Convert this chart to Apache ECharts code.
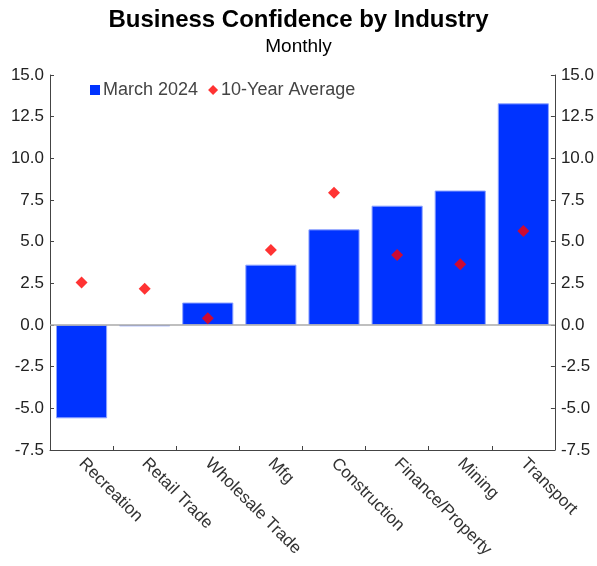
<!DOCTYPE html>
<html>
<head>
<meta charset="utf-8">
<script src="https://cdn.jsdelivr.net/npm/echarts@6/dist/echarts.min.js"></script>
<style>
  html, body { margin: 0; padding: 0; background: #fff; }
  #chart { width: 597px; height: 566px; }
</style>
</head>
<body>
<div id="chart"></div>
<script>
// industries, sorted by March reading
const categories = ['Recreation', 'Retail Trade', 'Wholesale Trade', 'Mfg', 'Construction', 'Finance/Property', 'Mining', 'Transport']
const march2024 = [-5.6, -0.08, 1.35, 3.62, 5.74, 7.16, 8.07, 13.3]
const tenYearAvg = [2.55, 2.18, 0.4, 4.5, 7.93, 4.2, 3.65, 5.64]
const yTicks = { min: -7.5, max: 15, interval: 2.5 }

const font = 'Liberation Sans, Arial, sans-serif'
const axisColor = '#444'

function yAxisCfg(pos) {
  return {
    type: 'value',
    position: pos,
    min: yTicks.min,
    max: yTicks.max,
    interval: yTicks.interval,
    axisLine: { show: true, lineStyle: { color: axisColor, width: 1 } },
    axisTick: { show: true, inside: true, length: 4, lineStyle: { color: axisColor } },
    axisLabel: {
      color: '#222',
      fontSize: 17,
      fontFamily: font,
      margin: 6,
      formatter: v => v.toFixed(1)
    },
    splitLine: { show: false }
  }
}

const chart = echarts.init(document.getElementById('chart'))
chart.setOption({
  animation: false,
  title: {
    text: 'Business Confidence by Industry',
    subtext: 'Monthly',
    left: 'center',
    top: 3,
    itemGap: 5,
    textStyle: { fontSize: 24, fontWeight: 'bold', color: '#000', fontFamily: font },
    subtextStyle: { fontSize: 19, color: '#000', fontFamily: font }
  },
  legend: {
    left: 85,
    top: 76,
    itemWidth: 10,
    itemHeight: 10,
    itemGap: 10,
    textStyle: { fontSize: 18, color: '#444', fontFamily: font, padding: [0, 0, 0, -2] },
    data: [
      { name: 'March 2024', icon: 'rect', itemStyle: { borderWidth: 0 } },
      { name: '10-Year Average', icon: 'diamond' }
    ]
  },
  grid: { left: 50, right: 39, top: 75, bottom: 116 },
  xAxis: {
    type: 'category',
    data: categories,
    axisLine: { onZero: false, lineStyle: { color: axisColor } },
    axisTick: { show: true, inside: true, length: 4, alignWithLabel: false, lineStyle: { color: axisColor } },
    axisLabel: {
      rotate: -45,
      interval: 0,
      color: '#333',
      fontSize: 17,
      fontFamily: font,
      margin: 11
    }
  },
  yAxis: [yAxisCfg('left'), yAxisCfg('right')],
  series: [
    {
      name: 'March 2024',
      type: 'bar',
      data: march2024,
      barWidth: '81%',
      itemStyle: { color: '#0033ff', borderColor: '#8ea4ff', borderWidth: 1 },
      markLine: {
        silent: true,
        symbol: 'none',
        label: { show: false },
        lineStyle: { color: '#aaa', type: 'solid', width: 1.5 },
        data: [{ yAxis: 0 }]
      },
      z: 2
    },
    {
      name: '10-Year Average',
      type: 'scatter',
      data: tenYearAvg,
      symbol: 'diamond',
      symbolSize: 12,
      itemStyle: { color: '#ff0000' },
      z: 5
    }
  ]
})
</script>
</body>
</html>
